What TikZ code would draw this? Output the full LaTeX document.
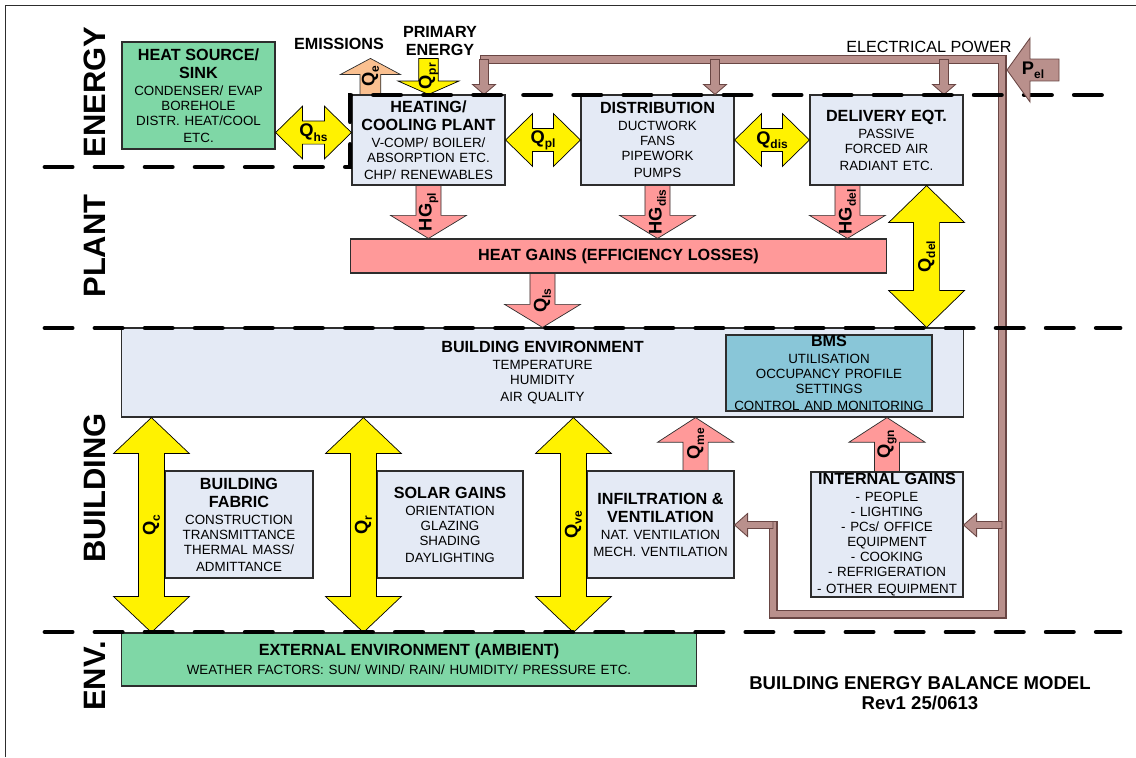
\documentclass[tikz,border=0pt]{standalone}
\usepackage{fontspec}
\setmainfont{Liberation Sans}
\usetikzlibrary{calc}

\definecolor{boxblue}{RGB}{228,234,245}
\definecolor{boxgreen}{RGB}{127,215,166}
\definecolor{bmsblue}{RGB}{137,198,216}
\definecolor{gainpink}{RGB}{255,153,153}
\definecolor{emitorange}{RGB}{250,192,144}
\definecolor{wirebrown}{RGB}{185,144,140}
\definecolor{wireedge}{RGB}{105,70,68}
\definecolor{edgegray}{RGB}{45,45,45}

\newcommand{\boxhead}{\fontsize{11.5}{12.8}\selectfont\bfseries}
\newcommand{\boxbody}{\par\vspace{1.6pt}\fontsize{9.5}{10.65}\selectfont\mdseries\noindent}
\newcommand{\qsym}[2]{{\fontsize{13}{13}\selectfont\bfseries #1\raisebox{-3pt}{\fontsize{8.5}{8.5}\selectfont #2}}}

% block arrow: style, from, to, shaft half, head half, head length
\newcommand{\blockarrow}[6]{%
  \coordinate (hd) at ($#3!#6!#2$);
  \filldraw[#1] ($#2!#4!90:#3$) -- ($(hd)!#4!-90:#2$) -- ($(hd)!#5!-90:#2$) -- #3
    -- ($(hd)!#5!90:#2$) -- ($(hd)!#4!90:#2$) -- ($#2!#4!-90:#3$) -- cycle;}
\newcommand{\dblarrow}[6]{%
  \coordinate (hda) at ($#2!#6!#3$);
  \coordinate (hdb) at ($#3!#6!#2$);
  \filldraw[#1] #2 -- ($(hda)!#5!90:#3$) -- ($(hda)!#4!90:#3$) -- ($(hdb)!#4!-90:#2$)
    -- ($(hdb)!#5!-90:#2$) -- #3 -- ($(hdb)!#5!90:#2$) -- ($(hdb)!#4!90:#2$)
    -- ($(hda)!#4!-90:#3$) -- ($(hda)!#5!-90:#3$) -- cycle;}

\begin{document}
\begin{tikzpicture}[x=0.025cm, y=-0.025cm,
  box/.style={draw=edgegray, line width=0.8pt, fill=boxblue, inner sep=0pt, align=center,
    execute at begin node={\parindent=0pt}},
  green box/.style={box, fill=boxgreen},
  yarrow/.style={fill=yellow, draw=black, line width=0.5pt},
  parrow/.style={fill=gainpink, draw=edgegray, line width=0.5pt},
  oarrow/.style={fill=emitorange, draw=edgegray, line width=0.5pt},
  warrow/.style={fill=wirebrown, draw=wireedge, line width=0.6pt},
  wire/.style={preaction={draw=wireedge, line width=6.4pt, line cap=rect, line join=miter},
    draw=wirebrown, line width=4.9pt, line cap=rect, line join=miter},
  zoneline/.style={line width=3.5pt, line cap=round, dash pattern=on 19.3pt off 16.3pt},
  sect/.style={rotate=90, inner sep=0pt, font=\fontsize{22}{22}\selectfont\bfseries},
  lab/.style={inner sep=0pt, align=center, font=\fontsize{11.5}{13}\selectfont\bfseries},
  qlab/.style={inner sep=0pt}]
\useasboundingbox (0,0) rectangle (1136,757);
\draw[edgegray, line width=0.7pt] (5,757) -- (5,5) -- (1136,5);

% boxes
\node[green box, minimum width=3.825cm, minimum height=2.675cm, text width=3.7cm] (hs) at (198.5,95.5)
  {\boxhead HEAT SOURCE/\\SINK\boxbody CONDENSER/ EVAP\\BOREHOLE\\DISTR. HEAT/COOL\\ETC.};
\node[box, minimum width=3.825cm, minimum height=2.25cm, text width=3.7cm] (plant) at (428.5,140)
  {\boxhead HEATING/\\COOLING PLANT\boxbody V-COMP/ BOILER/\\ABSORPTION ETC.\\CHP/ RENEWABLES};
\node[box, minimum width=3.825cm, minimum height=2.25cm, text width=3.7cm] (dist) at (657.5,140)
  {\boxhead DISTRIBUTION\boxbody DUCTWORK\\FANS\\PIPEWORK\\PUMPS};
\node[box, minimum width=3.825cm, minimum height=2.25cm, text width=3.7cm] (deliv) at (886.5,140)
  {\boxhead DELIVERY EQT.\boxbody PASSIVE\\FORCED AIR\\RADIANT ETC.};
\node[box, fill=gainpink, minimum width=13.375cm, minimum height=0.85cm, text width=13cm] (hg) at (618.5,256)
  {\boxhead HEAT GAINS (EFFICIENCY LOSSES)};
\node[box, minimum width=21.025cm, minimum height=2.225cm, text width=20cm] (benv) at (542.5,372.5)
  {\boxhead BUILDING ENVIRONMENT\boxbody TEMPERATURE\\HUMIDITY\\AIR QUALITY};
\node[box, fill=bmsblue, minimum width=5.15cm, minimum height=1.9cm, text width=5cm] (bms) at (829,373)
  {\boxhead BMS\boxbody UTILISATION\\OCCUPANCY PROFILE\\SETTINGS\\CONTROL AND MONITORING};
\node[box, minimum width=3.7cm, minimum height=2.675cm, text width=3.6cm] (fabric) at (239,524.5)
  {\boxhead BUILDING\\FABRIC\boxbody CONSTRUCTION\\TRANSMITTANCE\\THERMAL MASS/\\ADMITTANCE};
\node[box, minimum width=3.65cm, minimum height=2.675cm, text width=3.55cm] (solar) at (450,524.5)
  {\boxhead SOLAR GAINS\boxbody ORIENTATION\\GLAZING\\SHADING\\DAYLIGHTING};
\node[box, minimum width=3.675cm, minimum height=2.675cm, text width=3.6cm] (infil) at (660.5,524.5)
  {\boxhead INFILTRATION \&\\VENTILATION\boxbody NAT. VENTILATION\\MECH. VENTILATION};
\node[box, minimum width=3.8cm, minimum height=3.125cm, text width=3.7cm] (igain) at (887,534.5)
  {\boxhead INTERNAL GAINS\boxbody - PEOPLE\\- LIGHTING\\- PCs/ OFFICE\\EQUIPMENT\\- COOKING\\- REFRIGERATION\\- OTHER EQUIPMENT};
\node[green box, minimum width=14.35cm, minimum height=1.325cm, text width=14cm] (extenv) at (409,659.5)
  {\boxhead EXTERNAL ENVIRONMENT (AMBIENT)\boxbody WEATHER FACTORS: SUN/ WIND/ RAIN/ HUMIDITY/ PRESSURE ETC.};

% electrical power
\coordinate (pwL) at (484,59.5);
\coordinate (pwD) at (715,59.5);
\coordinate (pwE) at (944,59.5);
\coordinate (pwR) at (1002,59.5);
\coordinate (pwB) at (1002,614);
\coordinate (pwC) at (773,614);
\coordinate (pwI) at (773,525);
\draw[wire] (pwL) -- (pwR) -- (pwB) -- (pwC) -- (pwI);
\blockarrow{warrow}{(pwL)}{(pwL |- plant.north)}{3.2pt}{8.2pt}{7.1pt}
\blockarrow{warrow}{(pwD)}{(pwD |- dist.north)}{3.2pt}{8.2pt}{7.1pt}
\blockarrow{warrow}{(pwE)}{(pwE |- deliv.north)}{3.2pt}{8.2pt}{7.1pt}
\blockarrow{warrow}{(pwI)}{(pwI -| infil.east)}{2.5pt}{8.2pt}{9.25pt}
\blockarrow{warrow}{(pwB |- pwI)}{(pwI -| igain.east)}{2.5pt}{8.2pt}{9.25pt}

% energy flows
\coordinate (qhsA) at ($(hs.south east)+(0,-17)$);
\dblarrow{yarrow}{(qhsA)}{(qhsA -| plant.west)}{8.2pt}{18.8pt}{19.2pt}
\dblarrow{yarrow}{(plant.east)}{(dist.west)}{8.2pt}{18.8pt}{19.2pt}
\dblarrow{yarrow}{(dist.east)}{(deliv.west)}{8.2pt}{18.8pt}{19.2pt}
\coordinate (qdT) at ($(deliv.south east)+(-37,0)$);
\dblarrow{yarrow}{(qdT)}{(qdT |- benv.north)}{9.25pt}{27pt}{26.3pt}
\coordinate (qcT) at ($(fabric.north west)+(-13,0)$);
\coordinate (qrT) at ($(solar.north west)+(-13,0)$);
\coordinate (qvT) at ($(infil.north west)+(-13,0)$);
\dblarrow{yarrow}{(qcT |- benv.south)}{(qcT |- extenv.north)}{9.25pt}{27pt}{25.6pt}
\dblarrow{yarrow}{(qrT |- benv.south)}{(qrT |- extenv.north)}{9.25pt}{27pt}{25.6pt}
\dblarrow{yarrow}{(qvT |- benv.south)}{(qvT |- extenv.north)}{9.25pt}{27pt}{25.6pt}

\coordinate (qeB) at ($(plant.north west)+(19,0)$);
\coordinate (qeT) at ($(qeB)+(0,-36)$);
\coordinate (qprT) at (plant.north |- qeT);
\blockarrow{oarrow}{(qeB)}{(qeT)}{7.4pt}{21.3pt}{11.4pt}
\blockarrow{yarrow}{(qprT)}{(plant.north)}{7pt}{21.6pt}{9.5pt}

\coordinate (hgdT) at ($(deliv.south west)+(38,0)$);
\coordinate (qmeB) at ($(infil.north east)+(-39,0)$);
\blockarrow{parrow}{(plant.south)}{(plant.south |- hg.north)}{8.9pt}{27pt}{16.4pt}
\blockarrow{parrow}{(dist.south)}{(dist.south |- hg.north)}{8.9pt}{27pt}{16.4pt}
\blockarrow{parrow}{(hgdT)}{(hgdT |- hg.north)}{8.9pt}{27pt}{16.4pt}
\blockarrow{parrow}{(benv.north |- hg.south)}{(benv.north)}{8.9pt}{27pt}{16.4pt}
\blockarrow{parrow}{(qmeB)}{(qmeB |- benv.south)}{8.9pt}{27pt}{17.5pt}
\blockarrow{parrow}{(igain.north)}{(igain.north |- benv.south)}{8.9pt}{27pt}{17.5pt}

% zones
\draw[zoneline] (45,167) -- (350,167) -- (350,95) -- (1115,95);
\draw[zoneline] (45,328) -- (1120,328);
\draw[zoneline] (45,632) -- (1120,632);

\coordinate (pelT) at (1059,70);
\coordinate (pelH) at (1007,70);
\blockarrow{warrow}{(pelT)}{(pelH)}{7.8pt}{22.8pt}{16.4pt}

% labels
\node[qlab] (lqhs) at ($(qhsA)!0.5!(qhsA -| plant.west)$) {\qsym{Q}{hs}};
\node[qlab] (lqpl) at ($(plant.east)!0.5!(dist.west)$) {\qsym{Q}{pl}};
\node[qlab] (lqdis) at ($(dist.east)!0.5!(deliv.west)$) {\qsym{Q}{dis}};
\node[qlab, rotate=90] (lqdel) at ($(qdT)!0.5!(qdT |- benv.north)$) {\qsym{Q}{del}};
\node[qlab, rotate=90] (lqc) at ($(qcT |- benv.south)!0.5!(qcT |- extenv.north)$) {\qsym{Q}{c}};
\node[qlab, rotate=90] (lqr) at ($(qrT |- benv.south)!0.5!(qrT |- extenv.north)$) {\qsym{Q}{r}};
\node[qlab, rotate=90] (lqve) at ($(qvT |- benv.south)!0.5!(qvT |- extenv.north)$) {\qsym{Q}{ve}};
\node[qlab, rotate=90] (lqe) at ($(qeB)!0.5!(qeT)$) {\qsym{Q}{e}};
\node[qlab, rotate=90] (lqpr) at ($(qprT)!0.5!(plant.north)$) {\qsym{Q}{pr}};
\node[qlab, rotate=90] (lhgpl) at ($(plant.south)!0.5!(plant.south |- hg.north)$) {\qsym{HG}{pl}};
\node[qlab, rotate=90] (lhgdis) at ($(dist.south)!0.5!(dist.south |- hg.north)$) {\qsym{HG}{dis}};
\node[qlab, rotate=90] (lhgdel) at ($(hgdT)!0.5!(hgdT |- hg.north)$) {\qsym{HG}{del}};
\node[qlab, rotate=90] (lqls) at ($(benv.north |- hg.south)!0.5!(benv.north)$) {\qsym{Q}{ls}};
\node[qlab, rotate=90] (lqme) at ($(qmeB)!0.5!(qmeB |- benv.south)$) {\qsym{Q}{me}};
\node[qlab, rotate=90] (lqgn) at ($(igain.north)!0.5!(igain.north |- benv.south)$) {\qsym{Q}{gn}};
\node[qlab] (lpel) at ($(pelT)!0.5!(pelH)$) {\qsym{P}{el}};

\node[lab] (lemis) at (339,44) {EMISSIONS};
\node[lab] (lprim) at (440,41) {PRIMARY\\ENERGY};
\node[lab, font=\fontsize{11.5}{12}\selectfont] (lelec) at (929,47) {ELECTRICAL POWER};
\node[lab, font=\fontsize{13.2}{14.5}\selectfont\bfseries] (title) at (920,693) {BUILDING ENERGY BALANCE MODEL\\Rev1 25/0613};

\node[sect] (lenergy) at (95,92) {ENERGY};
\node[sect] (lplant) at (95,246) {PLANT};
\node[sect] (lbuild) at (95,488) {BUILDING};
\node[sect] (lenv) at (95,676) {ENV.};
\end{tikzpicture}
\end{document}
